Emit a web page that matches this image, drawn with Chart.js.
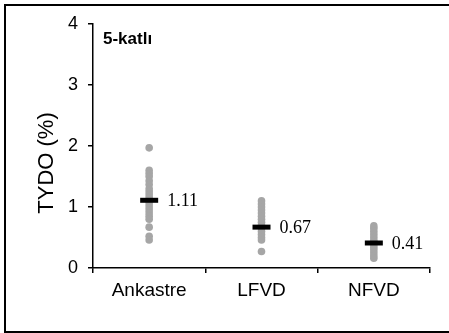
<!DOCTYPE html>
<html>
<head>
<meta charset="utf-8">
<script src="https://cdn.jsdelivr.net/npm/chart.js@4/dist/chart.umd.min.js"></script>
<style>
  body { margin: 0; overflow: hidden; background: #fff; }
  #wrap { position: relative; width: 449px; height: 333px; overflow: hidden; }
  #frame { position: absolute; left: 4px; top: 4px; width: 470px; height: 325px; border: 2px solid #000; }
  canvas { position: absolute; left: 0; top: 0; }
</style>
</head>
<body>
<div id="wrap">
  <div id="frame"></div>
  <canvas id="chart" width="449" height="333"></canvas>
</div>
<script>
var categories = ['Ankastre', 'LFVD', 'NFVD'];
var ankastreValues = [1.97, 1.6, 1.55, 1.5, 1.43, 1.37, 1.3, 1.25, 1.2, 1.15, 1.1, 1.05, 1.0, 0.95, 0.9, 0.85, 0.8, 0.67, 0.52, 0.46];
var lfvdValues = [1.1, 1.05, 1.0, 0.95, 0.9, 0.85, 0.8, 0.75, 0.7, 0.65, 0.6, 0.55, 0.5, 0.46, 0.27];
var nfvdValues = [0.69, 0.65, 0.6, 0.55, 0.5, 0.45, 0.42, 0.38, 0.34, 0.3, 0.25, 0.2, 0.16];
var meanValues = [1.11, 0.67, 0.41];
var meanLabels = ['1.11', '0.67', '0.41'];
var yTicks = [0, 1, 2, 3, 4];
var yTitle = 'TYDO (%)';
var panelTitle = '5-katlı';

var seriesValues = [ankastreValues, lfvdValues, nfvdValues];
var points = [];
for (var i = 0; i < categories.length; i++) {
    for (var j = 0; j < seriesValues[i].length; j++) {
        points.push({x: categories[i], y: seriesValues[i][j]});
    }
}
var means = [];
for (var k = 0; k < categories.length; k++) {
    means.push({x: categories[k], y: meanValues[k]});
}

var textPlugin = {
    id: 'texts',
    afterDatasetsDraw: function (chart) {
        var ctx = chart.ctx;
        var xs = chart.scales.x, ys = chart.scales.y;
        ctx.save();
        ctx.fillStyle = '#000';
        ctx.font = '18px "Liberation Serif", "Times New Roman", serif';
        ctx.textAlign = 'left';
        ctx.textBaseline = 'middle';
        for (var i = 0; i < meanValues.length; i++) {
            ctx.fillText(meanLabels[i], xs.getPixelForValue(i) + 18, ys.getPixelForValue(meanValues[i]) + 1);
        }
        ctx.font = 'bold 17px "Liberation Sans", Arial, sans-serif';
        ctx.fillText(panelTitle, 103, 39);
        ctx.translate(47, 163);
        ctx.rotate(-Math.PI / 2);
        ctx.textAlign = 'center';
        ctx.font = '22px "Liberation Sans", Arial, sans-serif';
        ctx.fillText(yTitle, 0, 0);
        ctx.restore();
    }
};

var ctx = document.getElementById('chart');
var myChart = new Chart(ctx, {
    type: 'line',
    data: {
        labels: categories,
        datasets: [{
            label: 'Mean',
            data: means,
            showLine: false,
            pointStyle: 'line',
            pointRadius: 9,
            pointBorderWidth: 5,
            borderColor: '#000',
            backgroundColor: '#000'
        }, {
            label: 'Values',
            data: points,
            showLine: false,
            pointStyle: 'circle',
            pointRadius: 3.8,
            pointBorderWidth: 0,
            borderColor: '#a6a6a6',
            backgroundColor: '#a6a6a6'
        }]
    },
    options: {
        responsive: false,
        animation: false,
        layout: {padding: {top: 24, right: 19, left: 0, bottom: 0}},
        plugins: {legend: {display: false}, tooltip: {enabled: false}},
        scales: {
            x: {
                type: 'category',
                offset: true,
                grid: {offset: true, drawOnChartArea: false, tickLength: 5, color: '#000', lineWidth: 1.5},
                border: {color: '#000', width: 1.5},
                ticks: {color: '#000', font: {family: '"Liberation Sans", Arial, sans-serif', size: 19}, padding: 6},
                afterFit: function (scale) { scale.height = 65; }
            },
            y: {
                min: 0,
                max: 4,
                afterBuildTicks: function (scale) {
                    scale.ticks = yTicks.map(function (v) { return {value: v}; });
                },
                grid: {drawOnChartArea: false, tickLength: 5, color: '#000', lineWidth: 1.5},
                border: {color: '#000', width: 1.5},
                ticks: {color: '#000', font: {family: '"Liberation Sans", Arial, sans-serif', size: 18}, padding: 10},
                afterFit: function (scale) { scale.width = 93; }
            }
        }
    },
    plugins: [textPlugin]
});
</script>
</body>
</html>
